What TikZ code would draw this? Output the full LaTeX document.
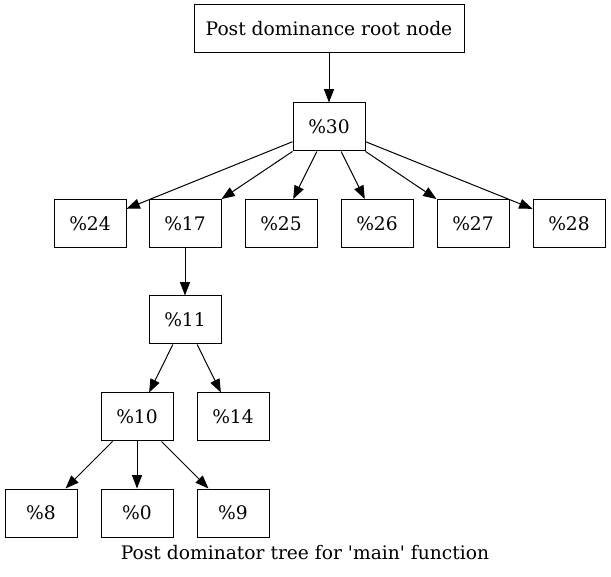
\documentclass[tikz,border=0pt]{standalone}
\usepackage{fontspec}
\setmainfont{DejaVu Serif}
\usepackage{tikz}
\usetikzlibrary{arrows.meta}

\begin{document}
\begin{tikzpicture}[x=0.75pt, y=-0.75pt, >={Triangle[length=10pt,width=7.5pt]},
  blk/.style={draw, rectangle, line width=0.75pt, minimum width=54pt, minimum height=36pt, inner sep=0pt, font=\fontsize{14}{16}\selectfont}]
\useasboundingbox (0,0) rectangle (611,577);
\node[blk, minimum width=202.5pt] (root) at (329,28.5) {Post dominance root node};
\node[blk] (n30) at (329,127) {\%30};
\node[blk] (n24) at (90,223.5) {\%24};
\node[blk] (n17) at (185,223.5) {\%17};
\node[blk] (n25) at (281,223.5) {\%25};
\node[blk] (n26) at (377,223.5) {\%26};
\node[blk] (n27) at (473,223.5) {\%27};
\node[blk] (n28) at (569,223.5) {\%28};
\node[blk] (n11) at (185,320) {\%11};
\node[blk] (n10) at (137,417) {\%10};
\node[blk] (n14) at (233,417) {\%14};
\node[blk] (n8) at (41,513) {\%8};
\node[blk] (n0) at (137,513) {\%0};
\node[blk] (n9) at (233,513) {\%9};
\node[font=\fontsize{14}{16}\selectfont] (caption) at (305,553) {Post dominator tree for \textquotesingle main\textquotesingle\ function};

\draw[->, line width=0.75pt] (root) -- (n30);
\draw[->, line width=0.75pt] (n30) -- (n24);
\draw[->, line width=0.75pt] (n30) -- (n17);
\draw[->, line width=0.75pt] (n30) -- (n25);
\draw[->, line width=0.75pt] (n30) -- (n26);
\draw[->, line width=0.75pt] (n30) -- (n27);
\draw[->, line width=0.75pt] (n30) -- (n28);
\draw[->, line width=0.75pt] (n17) -- (n11);
\draw[->, line width=0.75pt] (n11) -- (n10);
\draw[->, line width=0.75pt] (n11) -- (n14);
\draw[->, line width=0.75pt] (n10) -- (n8);
\draw[->, line width=0.75pt] (n10) -- (n0);
\draw[->, line width=0.75pt] (n10) -- (n9);
\end{tikzpicture}
\end{document}
